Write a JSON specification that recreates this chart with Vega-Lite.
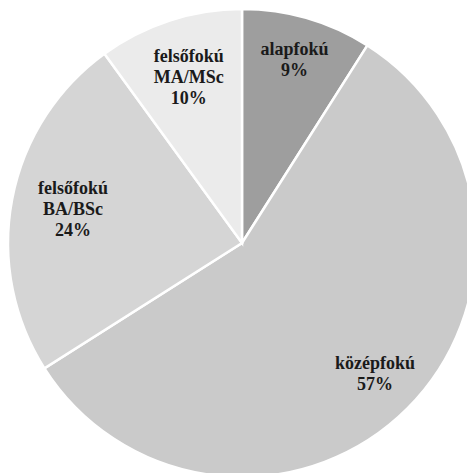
{
  "$schema": "https://vega.github.io/schema/vega-lite/v6.json",
  "width": 484,
  "height": 486,
  "autosize": {"type": "none"},
  "padding": {"left": 0, "top": 0, "right": -17, "bottom": -13},
  "background": "white",
  "data": {
    "values": [
      {"idx": 1, "category": "alapfokú", "value": 9, "label2": "alapfokú\n9%", "label3": ""},
      {"idx": 2, "category": "középfokú", "value": 57, "label2": "középfokú\n57%", "label3": ""},
      {"idx": 3, "category": "felsőfokú BA/BSc", "value": 24, "label2": "", "label3": "felsőfokú\nBA/BSc\n24%"},
      {"idx": 4, "category": "felsőfokú MA/MSc", "value": 10, "label2": "", "label3": "felsőfokú\nMA/MSc\n10%"}
    ]
  },
  "encoding": {
    "theta": {"field": "value", "type": "quantitative", "stack": true},
    "order": {"field": "idx", "type": "quantitative"}
  },
  "layer": [
    {
      "mark": {"type": "arc", "outerRadius": 234, "stroke": "white", "strokeWidth": 2.5},
      "encoding": {
        "color": {
          "field": "category",
          "type": "nominal",
          "scale": {
            "domain": ["alapfokú", "középfokú", "felsőfokú BA/BSc", "felsőfokú MA/MSc"],
            "range": ["#9e9e9e", "#cacaca", "#d5d5d5", "#ebebeb"]
          },
          "legend": null
        }
      }
    },
    {
      "mark": {
        "type": "text",
        "radius": 188,
        "dy": -12,
        "font": "Liberation Serif",
        "fontWeight": "bold",
        "fontSize": 18,
        "lineHeight": 21,
        "lineBreak": "\n",
        "color": "#1a1a1a",
        "align": "center",
        "baseline": "middle"
      },
      "encoding": {
        "text": {"field": "label2", "type": "nominal"}
      }
    },
    {
      "mark": {
        "type": "text",
        "radius": 172,
        "dy": -22,
        "font": "Liberation Serif",
        "fontWeight": "bold",
        "fontSize": 18,
        "lineHeight": 21,
        "lineBreak": "\n",
        "color": "#1a1a1a",
        "align": "center",
        "baseline": "middle"
      },
      "encoding": {
        "text": {"field": "label3", "type": "nominal"}
      }
    }
  ]
}
